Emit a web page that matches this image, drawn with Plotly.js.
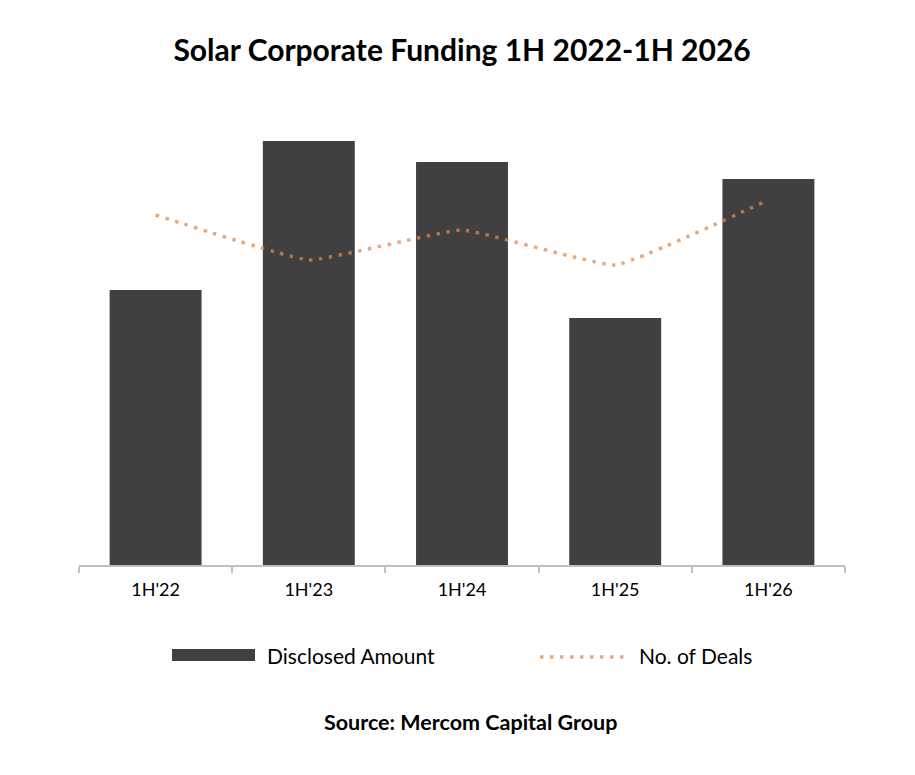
<!DOCTYPE html>
<html lang="en">
    <head>
        <meta charset="UTF-8" />
        <script src="https://cdn.plot.ly/plotly-3.0.1.min.js"></script>
        <title>Solar Corporate Funding</title>
        <style>
            body { margin: 0; background: #fff; }
            #chart { width: 915px; height: 775px; }
        </style>
    </head>
    <body>
        <div id="chart"></div>
    </body>
    <script>
        // Data (amount and deal count in relative units)
        const periods = ["1H'22", "1H'23", "1H'24", "1H'25", "1H'26"];
        const disclosedAmount = [2750, 4240, 4030, 2470, 3860];
        const numDeals = [70, 61, 67, 60, 73];

        const font = "Lato, 'Open Sans', sans-serif";
        const dealColor = "rgba(226,134,70,0.72)";

        const bars = {
            x: periods,
            y: disclosedAmount,
            type: "bar",
            name: "Disclosed Amount",
            marker: { color: "#404040" },
            hoverinfo: "x+y",
        };

        const deals = {
            x: periods,
            y: numDeals,
            type: "scatter",
            mode: "lines",
            name: "No. of Deals",
            yaxis: "y2",
            line: { color: dealColor, width: 3.5, dash: "3.5px,6.5px", shape: "spline", smoothing: 0.3 },
        };

        const layout = {
            width: 915,
            height: 775,
            margin: { l: 79, r: 70, t: 115, b: 210 },
            paper_bgcolor: "#fff",
            plot_bgcolor: "#fff",
            showlegend: false,
            bargap: 0.4,
            font: { family: font, color: "#000", size: 16 },
            title: {
                text: "<b>Solar Corporate Funding 1H 2022-1H 2026</b>",
                font: { family: font, size: 30, color: "#000" },
                x: 0.505,
                xanchor: "center",
                y: 0.935,
                yanchor: "middle",
            },
            xaxis: {
                showline: true,
                linecolor: "#bfbfbf",
                linewidth: 1.5,
                ticks: "outside",
                tickson: "boundaries",
                ticklen: 6,
                tickcolor: "#bfbfbf",
                tickwidth: 1.5,
                ticklabelstandoff: 8,
                tickfont: { family: font, size: 18, color: "#000" },
                showgrid: false,
                zeroline: false,
            },
            yaxis: { range: [0, 4500], visible: false, showgrid: false, zeroline: false, fixedrange: true },
            yaxis2: { range: [0, 90], overlaying: "y", visible: false, showgrid: false, zeroline: false },
            shapes: [
                {
                    type: "rect", xref: "paper", yref: "paper",
                    x0: 0.1214, x1: 0.2298, y0: -0.1867, y1: -0.2133,
                    fillcolor: "#404040", line: { width: 0 },
                },
                {
                    type: "line", xref: "paper", yref: "paper",
                    x0: 0.6018, x1: 0.7154, y0: -0.2044, y1: -0.2044,
                    line: { color: dealColor, width: 3.5, dash: "3.5px,6.5px" },
                },
            ],
            annotations: [
                {
                    text: "Disclosed Amount", xref: "paper", yref: "paper",
                    x: 0.2428, y: -0.2, xanchor: "left", yanchor: "middle",
                    showarrow: false, font: { family: font, size: 21, color: "#000" },
                },
                {
                    text: "No. of Deals", xref: "paper", yref: "paper",
                    x: 0.7285, y: -0.2, xanchor: "left", yanchor: "middle",
                    showarrow: false, font: { family: font, size: 21, color: "#000" },
                },
                {
                    text: "<b>Source: Mercom Capital Group</b>", xref: "paper", yref: "paper",
                    x: 0.5117, y: -0.349, xanchor: "center", yanchor: "middle",
                    showarrow: false, font: { family: font, size: 21.5, color: "#000" },
                },
            ],
        };

        Plotly.newPlot("chart", [bars, deals], layout, { displayModeBar: false });
    </script>
</html>
